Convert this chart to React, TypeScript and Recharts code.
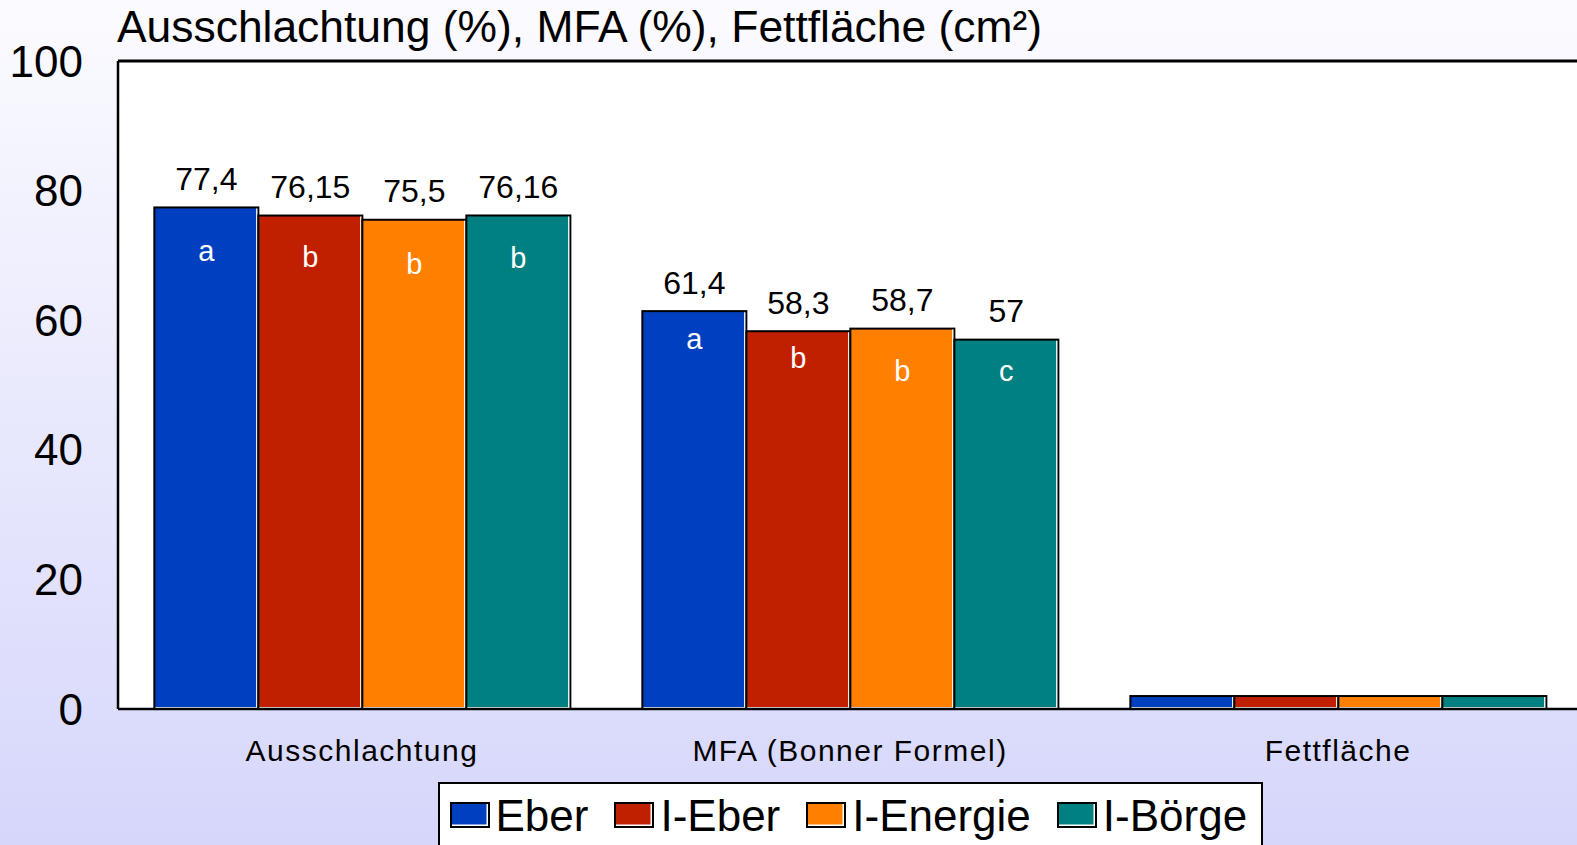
import React from 'react';
import { BarChart, Bar, XAxis, YAxis, CartesianGrid, ReferenceLine, LabelList } from 'recharts';

const categories = ['Ausschlachtung', 'MFA (Bonner Formel)', 'Fettfläche'];
const seriesNames = ['Eber', 'I-Eber', 'I-Energie', 'I-Börge'];
const eber = [77.4, 61.4, 2.0];
const iEber = [76.15, 58.3, 2.0];
const iEnergie = [75.5, 58.7, 2.0];
const iBoerge = [76.16, 57, 2.0];
const eberLetters = ['a', 'a', ''];
const iEberLetters = ['b', 'b', ''];
const iEnergieLetters = ['b', 'b', ''];
const iBoergeLetters = ['b', 'c', ''];
const showValue = [true, true, false];
const yTicks = [0, 20, 40, 60, 80, 100];

const colors = ['#0040c0', '#c02000', '#ff8000', '#008080'];
const letterOffsets = [
  [45, 29],
  [42, 28],
  [45, 43],
  [44, 32],
];

const FONT = '"Liberation Sans", Arial, Helvetica, sans-serif';
const fmt = (v: number) => String(v).replace('.', ',');

const seriesValues = [eber, iEber, iEnergie, iBoerge];
const seriesLetters = [eberLetters, iEberLetters, iEnergieLetters, iBoergeLetters];

const data = categories.map((c, i) => {
  const row: any = { category: c };
  seriesValues.forEach((vals, s) => {
    row['v' + s] = vals[i];
    row['l' + s] = showValue[i] ? fmt(vals[i]) : '';
    row['g' + s] = seriesLetters[s][i];
  });
  return row;
});

const BarShape = (props: any) => {
  const { x, y, width, height, fill } = props;
  if (!width || !height) return null;
  return (
    <g>
      <rect x={x} y={y} width={width} height={height} fill={fill} stroke="#000" strokeWidth={2} />
      <line x1={x + width - 1.6} y1={y + 1} x2={x + width - 1.6} y2={y + height - 0.5} stroke="#fff" strokeWidth={1.3} />
      <line x1={x + 1} y1={y + height - 1.4} x2={x + width - 1} y2={y + height - 1.4} stroke="#fff" strokeWidth={1.3} />
    </g>
  );
};

const getBox = (props: any) => {
  const vb = props.viewBox && props.viewBox.width != null ? props.viewBox : props;
  return { x: Number(vb.x), y: Number(vb.y), width: Number(vb.width), height: Number(vb.height) };
};

const ValueLabel = (props: any) => {
  const { value } = props;
  if (!value) return null;
  const b = getBox(props);
  return (
    <text x={b.x + b.width / 2} y={b.y - 17.5} textAnchor="middle" fontSize={32} fill="#000" fontFamily={FONT}>
      {value}
    </text>
  );
};

const makeLetterLabel = (s: number) => (props: any) => {
  const { value, index } = props;
  if (!value) return null;
  const b = getBox(props);
  const off = (letterOffsets[s] && letterOffsets[s][index]) || 40;
  return (
    <text x={b.x + b.width / 2} y={b.y + off + 9} textAnchor="middle" fontSize={29} fill="#fff" fontFamily={FONT}>
      {value}
    </text>
  );
};

const XTick = (props: any) => {
  const { x, y, payload } = props;
  return (
    <text x={x} y={y} dy="0.71em" textAnchor="middle" fontSize={30} fill="#000" fontFamily={FONT} letterSpacing={1.5}>
      {payload.value}
    </text>
  );
};

const YTick = (props: any) => {
  const { x, y, payload } = props;
  return (
    <text x={x} y={y} dy="0.355em" textAnchor="end" fontSize={44} fill="#000" fontFamily={FONT}>
      {payload.value}
    </text>
  );
};

const Swatch = ({ color }: { color: string }) => (
  <div
    style={{
      width: 36,
      height: 22,
      background: color,
      border: '2px solid #000',
      boxShadow: 'inset -1.5px -1.5px 0 #fff',
      marginRight: 6,
      flex: '0 0 auto',
    }}
  />
);

export default function App() {
  return (
    <div
      style={{
        position: 'absolute',
        left: 0,
        top: 0,
        width: 1577,
        height: 845,
        overflow: 'hidden',
        background: 'linear-gradient(to bottom, #fbfbff 0%, #d6d6fb 100%)',
        fontFamily: FONT,
      }}
    >
      <BarChart
        width={1582}
        height={845}
        data={data}
        margin={{ top: 61, right: 0, left: 0, bottom: 0 }}
        barCategoryGap="7.45%"
        barGap={0}
      >
        <CartesianGrid fill="#ffffff" horizontal={false} vertical={false} stroke="none" />
        <XAxis
          dataKey="category"
          height={136}
          tickLine={false}
          tickSize={0}
          tickMargin={31}
          axisLine={{ stroke: '#000', strokeWidth: 2.5 }}
          tick={<XTick />}
          interval={0}
        />
        <YAxis
          width={118}
          domain={[0, 100]}
          ticks={yTicks}
          interval={0}
          tickLine={false}
          tickSize={0}
          tickMargin={35}
          axisLine={{ stroke: '#000', strokeWidth: 2.5 }}
          tick={<YTick />}
        />
        <ReferenceLine y={100} stroke="#000" strokeWidth={3} ifOverflow="visible" />
        {seriesNames.map((name, s) => (
          <Bar
            key={name}
            dataKey={'v' + s}
            name={name}
            fill={colors[s]}
            shape={<BarShape />}
            isAnimationActive={false}
          >
            <LabelList dataKey={'l' + s} content={<ValueLabel />} />
            <LabelList dataKey={'g' + s} content={makeLetterLabel(s)} />
          </Bar>
        ))}
      </BarChart>
      <svg
        width={1577}
        height={60}
        style={{ position: 'absolute', left: 0, top: 0, pointerEvents: 'none' }}
      >
        <text x={117} y={41.5} fontSize={44.4} fill="#000" fontFamily={FONT}>
          Ausschlachtung (%), MFA (%), Fettfläche (cm²)
        </text>
      </svg>
      <div
        style={{
          position: 'absolute',
          left: 438,
          top: 782,
          width: 825,
          height: 80,
          background: '#fff',
          border: '2px solid #000',
          display: 'flex',
          alignItems: 'flex-start',
          paddingLeft: 9.5,
          boxSizing: 'border-box',
        }}
      >
        {seriesNames.map((name, s) => (
          <div
            key={name}
            style={{ display: 'flex', alignItems: 'center', marginRight: 26, marginTop: 15 }}
          >
            <Swatch color={colors[s]} />
            <span style={{ fontSize: 44, lineHeight: '30px', color: '#000', whiteSpace: 'nowrap', paddingTop: 2 }}>
              {name}
            </span>
          </div>
        ))}
      </div>
    </div>
  );
}
